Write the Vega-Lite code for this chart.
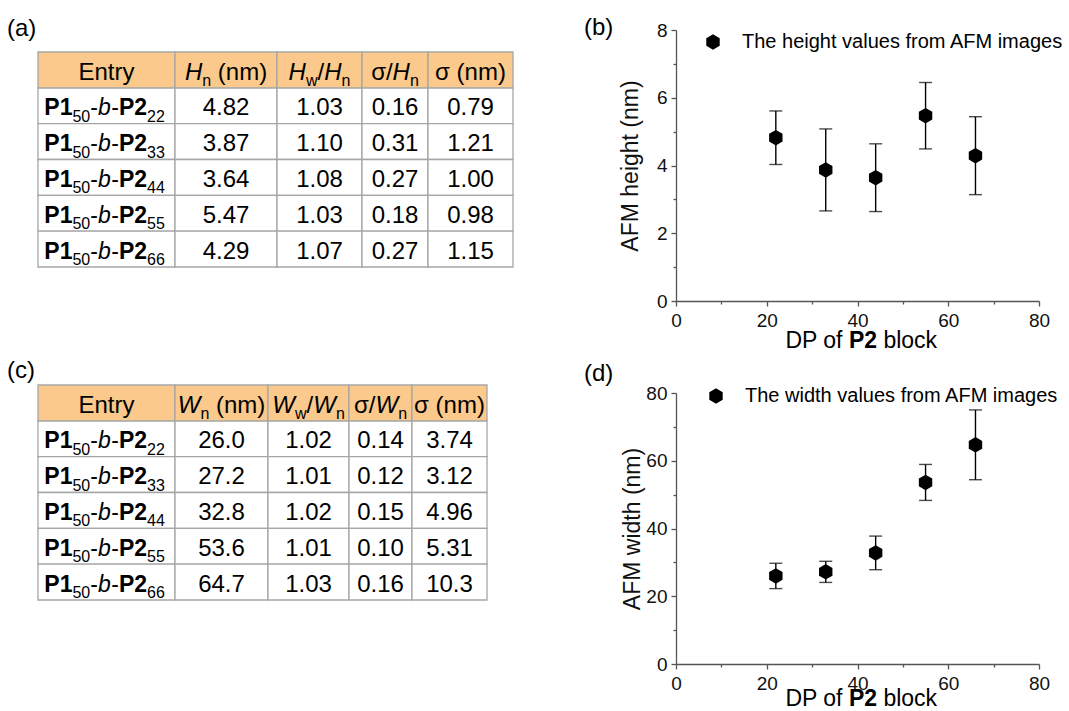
{
 "$schema": "https://vega.github.io/schema/vega-lite/v6.json",
 "padding": {"left": 7, "top": 16, "right": 0, "bottom": 0},
 "background": "white",
 "config": {
  "font": "Liberation Sans",
  "view": {"stroke": null},
  "text": {"font": "Liberation Sans", "color": "#000", "fontSize": 24, "baseline": "alphabetic"},
  "title": {"font": "Liberation Sans", "fontSize": 24, "fontWeight": "normal", "color": "#000", "anchor": "start", "frame": "group", "baseline": "alphabetic"},
  "axis": {"labelFont": "Liberation Sans", "titleFont": "Liberation Sans", "labelFontSize": 19, "labelColor": "#111", "titleFontSize": 23, "titleFontWeight": "normal", "titleColor": "#111", "domainColor": "#555", "tickColor": "#555", "domainWidth": 1.3, "tickWidth": 1.3, "grid": false, "labelFlush": false, "labelOverlap": false, "labelPadding": 4},
  "axisX": {"labelPadding": 5},
  "legend": {"labelFont": "Liberation Sans", "labelFontSize": 20, "labelColor": "#000", "labelLimit": 0, "symbolSize": 240, "symbolFillColor": "#000", "symbolStrokeColor": "#000", "symbolStrokeWidth": 0, "symbolOpacity": 1, "labelOffset": 19}
 },
 "datasets": {
  "H": [
   {"dp": 22, "m": 4.82, "r": 1.03, "sr": 0.16, "s": 0.79},
   {"dp": 33, "m": 3.87, "r": 1.10, "sr": 0.31, "s": 1.21},
   {"dp": 44, "m": 3.64, "r": 1.08, "sr": 0.27, "s": 1.00},
   {"dp": 55, "m": 5.47, "r": 1.03, "sr": 0.18, "s": 0.98},
   {"dp": 66, "m": 4.29, "r": 1.07, "sr": 0.27, "s": 1.15}
  ],
  "W": [
   {"dp": 22, "m": 26.0, "r": 1.02, "sr": 0.14, "s": 3.74},
   {"dp": 33, "m": 27.2, "r": 1.01, "sr": 0.12, "s": 3.12},
   {"dp": 44, "m": 32.8, "r": 1.02, "sr": 0.15, "s": 4.96},
   {"dp": 55, "m": 53.6, "r": 1.01, "sr": 0.10, "s": 5.31},
   {"dp": 66, "m": 64.7, "r": 1.03, "sr": 0.16, "s": 10.3}
  ]
 },
 "columns": 2,
 "spacing": {"row": 84, "column": 163},
 "align": "each",
 "bounds": "flush",
 "resolve": {"scale": {"shape": "independent"}},
 "concat": [
  {
   "width": 475, "height": 237, "data": {"name": "H"},
   "title": {"text": "(a)", "dx": -31, "offset": -11},
   "resolve": {"scale": {"x": "independent"}},
   "encoding": {"y": {"field": "dp", "type": "ordinal", "axis": null, "scale": {"domain": [0, 22, 33, 44, 55, 66], "range": [22, 237], "paddingInner": 0, "paddingOuter": 0}}},
   "layer": [
    {
     "encoding": {"x": {"datum": "c1", "type": "nominal", "axis": null, "scale": {"type": "band", "range": [0, 137], "paddingInner": 0, "paddingOuter": 0}}},
     "layer": [
      {"mark": {"type": "rect", "fill": "#fff", "stroke": "#A6A6A6", "strokeWidth": 1.3}},
      {"transform": [{"filter": "datum.dp == 22"}], "encoding": {"y": {"datum": 0, "type": "ordinal"}}, "layer": [
        {"mark": {"type": "rect", "fill": "#FAC98B", "stroke": "#A6A6A6", "strokeWidth": 1.3}},
        {"mark": {"type": "text", "text": "Entry", "align": "center", "dy": 10.5}}
      ]},
      {"mark": {"type": "text", "text": "P1", "fontSize": 23, "fontWeight": "bold", "align": "left", "dx": -62.2, "dy": 9.5}},
      {"mark": {"type": "text", "text": "50", "fontSize": 16, "align": "left", "dx": -34.1, "dy": 16}},
      {"mark": {"type": "text", "text": "-", "fontSize": 23, "align": "left", "dx": -16.3, "dy": 9.5}},
      {"mark": {"type": "text", "text": "b", "fontSize": 23, "fontStyle": "italic", "align": "left", "dx": -8.6, "dy": 9.5}},
      {"mark": {"type": "text", "text": "-", "fontSize": 23, "align": "left", "dx": 4.8, "dy": 9.5}},
      {"mark": {"type": "text", "text": "P2", "fontSize": 23, "fontWeight": "bold", "align": "left", "dx": 12.5, "dy": 9.5}},
      {"mark": {"type": "text", "fontSize": 16, "align": "left", "dx": 40.6, "dy": 16}, "encoding": {"text": {"field": "dp"}}}
     ]
    },
    {
     "encoding": {"x": {"datum": "c2", "type": "nominal", "axis": null, "scale": {"type": "band", "range": [137, 239], "paddingInner": 0, "paddingOuter": 0}}},
     "layer": [
      {"mark": {"type": "rect", "fill": "#fff", "stroke": "#A6A6A6", "strokeWidth": 1.3}},
      {"transform": [{"filter": "datum.dp == 22"}], "encoding": {"y": {"datum": 0, "type": "ordinal"}}, "layer": [
        {"mark": {"type": "rect", "fill": "#FAC98B", "stroke": "#A6A6A6", "strokeWidth": 1.3}},
        {"mark": {"type": "text", "text": "H", "fontStyle": "italic", "align": "left", "dx": -41.1, "dy": 10.5}},
        {"mark": {"type": "text", "text": "n", "fontSize": 16, "align": "left", "dx": -23.8, "dy": 16.5}},
        {"mark": {"type": "text", "text": "(nm)", "align": "left", "dx": -8.2, "dy": 10.5}}
      ]},
      {"mark": {"type": "text", "align": "center", "dy": 9.5}, "encoding": {"text": {"field": "m", "format": ".2f"}}}
     ]
    },
    {
     "encoding": {"x": {"datum": "c3", "type": "nominal", "axis": null, "scale": {"type": "band", "range": [239, 324], "paddingInner": 0, "paddingOuter": 0}}},
     "layer": [
      {"mark": {"type": "rect", "fill": "#fff", "stroke": "#A6A6A6", "strokeWidth": 1.3}},
      {"transform": [{"filter": "datum.dp == 22"}], "encoding": {"y": {"datum": 0, "type": "ordinal"}}, "layer": [
        {"mark": {"type": "rect", "fill": "#FAC98B", "stroke": "#A6A6A6", "strokeWidth": 1.3}},
        {"mark": {"type": "text", "text": "H", "fontStyle": "italic", "align": "left", "dx": -30.9, "dy": 10.5}},
        {"mark": {"type": "text", "text": "w", "fontSize": 16, "align": "left", "dx": -13.6, "dy": 16.5}},
        {"mark": {"type": "text", "text": "/", "align": "left", "dx": -2.0, "dy": 10.5}},
        {"mark": {"type": "text", "text": "H", "fontStyle": "italic", "align": "left", "dx": 4.7, "dy": 10.5}},
        {"mark": {"type": "text", "text": "n", "fontSize": 16, "align": "left", "dx": 22.0, "dy": 16.5}}
      ]},
      {"mark": {"type": "text", "align": "center", "dy": 9.5}, "encoding": {"text": {"field": "r", "format": ".2f"}}}
     ]
    },
    {
     "encoding": {"x": {"datum": "c4", "type": "nominal", "axis": null, "scale": {"type": "band", "range": [324, 390], "paddingInner": 0, "paddingOuter": 0}}},
     "layer": [
      {"mark": {"type": "rect", "fill": "#fff", "stroke": "#A6A6A6", "strokeWidth": 1.3}},
      {"transform": [{"filter": "datum.dp == 22"}], "encoding": {"y": {"datum": 0, "type": "ordinal"}}, "layer": [
        {"mark": {"type": "rect", "fill": "#FAC98B", "stroke": "#A6A6A6", "strokeWidth": 1.3}},
        {"mark": {"type": "text", "text": "σ", "align": "left", "dx": -23.85, "dy": 10.5}},
        {"mark": {"type": "text", "text": "/", "align": "left", "dx": -9.05, "dy": 10.5}},
        {"mark": {"type": "text", "text": "H", "fontStyle": "italic", "align": "left", "dx": -2.4, "dy": 10.5}},
        {"mark": {"type": "text", "text": "n", "fontSize": 16, "align": "left", "dx": 14.9, "dy": 16.5}}
      ]},
      {"mark": {"type": "text", "align": "center", "dy": 9.5}, "encoding": {"text": {"field": "sr", "format": ".2f"}}}
     ]
    },
    {
     "encoding": {"x": {"datum": "c5", "type": "nominal", "axis": null, "scale": {"type": "band", "range": [390, 475], "paddingInner": 0, "paddingOuter": 0}}},
     "layer": [
      {"mark": {"type": "rect", "fill": "#fff", "stroke": "#A6A6A6", "strokeWidth": 1.3}},
      {"transform": [{"filter": "datum.dp == 22"}], "encoding": {"y": {"datum": 0, "type": "ordinal"}}, "layer": [
        {"mark": {"type": "rect", "fill": "#FAC98B", "stroke": "#A6A6A6", "strokeWidth": 1.3}},
        {"mark": {"type": "text", "text": "σ (nm)", "align": "center", "dy": 10.5}}
      ]},
      {"mark": {"type": "text", "align": "center", "dy": 9.5}, "encoding": {"text": {"field": "s", "format": ".2f"}}}
     ]
    }
   ]
  },
  {
   "width": 363, "height": 271, "data": {"name": "H"},
   "title": {"text": "(b)", "dx": -92, "offset": -19},
   "encoding": {
    "x": {"field": "dp", "type": "quantitative", "scale": {"domain": [0, 80], "nice": false},
          "axis": {"values": [0, 10, 20, 30, 40, 50, 60, 70, 80], "labelExpr": "datum.value % 20 === 0 ? datum.label : ''", "tickSize": {"condition": {"test": "datum.value % 20 === 0", "value": 5}, "value": 3}, "title": null}},
    "y": {"field": "m", "type": "quantitative", "scale": {"domain": [0, 8], "nice": false},
          "axis": {"values": [0, 1, 2, 3, 4, 5, 6, 7, 8], "labelExpr": "datum.value % 2 === 0 ? datum.label : ''", "tickSize": {"condition": {"test": "datum.value % 2 === 0", "value": 5}, "value": 3}, "title": "AFM height (nm)", "titlePadding": 14}}
   },
   "layer": [
    {"mark": {"type": "errorbar", "color": "#000", "thickness": 1.4, "ticks": {"size": 13, "thickness": 1.4, "color": "#000"}}, "encoding": {"yError": {"field": "s"}}},
    {"mark": {"type": "point", "filled": true, "opacity": 1, "size": 240, "color": "#000"},
     "encoding": {"shape": {"datum": "The height values from AFM images", "type": "nominal", "scale": {"range": ["M0,-1L0.866,-0.5L0.866,0.5L0,1L-0.866,0.5L-0.866,-0.5Z"]}, "legend": {"title": null, "orient": "none", "legendX": 27, "legendY": 2}}}},
    {"transform": [{"filter": "datum.dp == 22"}], "mark": {"type": "text", "text": "DP of", "align": "right", "fontSize": 23, "dx": -15, "dy": 47}, "encoding": {"x": {"datum": 40, "type": "quantitative"}, "y": {"datum": 0, "type": "quantitative"}}},
    {"transform": [{"filter": "datum.dp == 22"}], "mark": {"type": "text", "text": "P2", "align": "left", "fontSize": 23, "fontWeight": "bold", "dx": -8.6, "dy": 47}, "encoding": {"x": {"datum": 40, "type": "quantitative"}, "y": {"datum": 0, "type": "quantitative"}}},
    {"transform": [{"filter": "datum.dp == 22"}], "mark": {"type": "text", "text": "block", "align": "left", "fontSize": 23, "dx": 25.9, "dy": 47}, "encoding": {"x": {"datum": 40, "type": "quantitative"}, "y": {"datum": 0, "type": "quantitative"}}}
   ]
  },
  {
   "width": 449, "height": 215, "data": {"name": "W"},
   "title": {"text": "(c)", "dx": -31, "offset": 1},
   "resolve": {"scale": {"x": "independent"}},
   "encoding": {"y": {"field": "dp", "type": "ordinal", "axis": null, "scale": {"domain": [0, 22, 33, 44, 55, 66], "range": [0, 215], "paddingInner": 0, "paddingOuter": 0}}},
   "layer": [
    {
     "encoding": {"x": {"datum": "c1", "type": "nominal", "axis": null, "scale": {"type": "band", "range": [0, 137], "paddingInner": 0, "paddingOuter": 0}}},
     "layer": [
      {"mark": {"type": "rect", "fill": "#fff", "stroke": "#A6A6A6", "strokeWidth": 1.3}},
      {"transform": [{"filter": "datum.dp == 22"}], "encoding": {"y": {"datum": 0, "type": "ordinal"}}, "layer": [
        {"mark": {"type": "rect", "fill": "#FAC98B", "stroke": "#A6A6A6", "strokeWidth": 1.3}},
        {"mark": {"type": "text", "text": "Entry", "align": "center", "dy": 10.5}}
      ]},
      {"mark": {"type": "text", "text": "P1", "fontSize": 23, "fontWeight": "bold", "align": "left", "dx": -62.2, "dy": 9.5}},
      {"mark": {"type": "text", "text": "50", "fontSize": 16, "align": "left", "dx": -34.1, "dy": 16}},
      {"mark": {"type": "text", "text": "-", "fontSize": 23, "align": "left", "dx": -16.3, "dy": 9.5}},
      {"mark": {"type": "text", "text": "b", "fontSize": 23, "fontStyle": "italic", "align": "left", "dx": -8.6, "dy": 9.5}},
      {"mark": {"type": "text", "text": "-", "fontSize": 23, "align": "left", "dx": 4.8, "dy": 9.5}},
      {"mark": {"type": "text", "text": "P2", "fontSize": 23, "fontWeight": "bold", "align": "left", "dx": 12.5, "dy": 9.5}},
      {"mark": {"type": "text", "fontSize": 16, "align": "left", "dx": 40.6, "dy": 16}, "encoding": {"text": {"field": "dp"}}}
     ]
    },
    {
     "encoding": {"x": {"datum": "c2", "type": "nominal", "axis": null, "scale": {"type": "band", "range": [137, 230], "paddingInner": 0, "paddingOuter": 0}}},
     "layer": [
      {"mark": {"type": "rect", "fill": "#fff", "stroke": "#A6A6A6", "strokeWidth": 1.3}},
      {"transform": [{"filter": "datum.dp == 22"}], "encoding": {"y": {"datum": 0, "type": "ordinal"}}, "layer": [
        {"mark": {"type": "rect", "fill": "#FAC98B", "stroke": "#A6A6A6", "strokeWidth": 1.3}},
        {"mark": {"type": "text", "text": "W", "fontStyle": "italic", "align": "left", "dx": -43.8, "dy": 10.5}},
        {"mark": {"type": "text", "text": "n", "fontSize": 16, "align": "left", "dx": -21.1, "dy": 16.5}},
        {"mark": {"type": "text", "text": "(nm)", "align": "left", "dx": -5.5, "dy": 10.5}}
      ]},
      {"mark": {"type": "text", "align": "center", "dy": 9.5}, "encoding": {"text": {"field": "m", "format": ".1f"}}}
     ]
    },
    {
     "encoding": {"x": {"datum": "c3", "type": "nominal", "axis": null, "scale": {"type": "band", "range": [230, 311], "paddingInner": 0, "paddingOuter": 0}}},
     "layer": [
      {"mark": {"type": "rect", "fill": "#fff", "stroke": "#A6A6A6", "strokeWidth": 1.3}},
      {"transform": [{"filter": "datum.dp == 22"}], "encoding": {"y": {"datum": 0, "type": "ordinal"}}, "layer": [
        {"mark": {"type": "rect", "fill": "#FAC98B", "stroke": "#A6A6A6", "strokeWidth": 1.3}},
        {"mark": {"type": "text", "text": "W", "fontStyle": "italic", "align": "left", "dx": -36.3, "dy": 10.5}},
        {"mark": {"type": "text", "text": "w", "fontSize": 16, "align": "left", "dx": -13.6, "dy": 16.5}},
        {"mark": {"type": "text", "text": "/", "align": "left", "dx": -2.0, "dy": 10.5}},
        {"mark": {"type": "text", "text": "W", "fontStyle": "italic", "align": "left", "dx": 4.7, "dy": 10.5}},
        {"mark": {"type": "text", "text": "n", "fontSize": 16, "align": "left", "dx": 27.4, "dy": 16.5}}
      ]},
      {"mark": {"type": "text", "align": "center", "dy": 9.5}, "encoding": {"text": {"field": "r", "format": ".2f"}}}
     ]
    },
    {
     "encoding": {"x": {"datum": "c4", "type": "nominal", "axis": null, "scale": {"type": "band", "range": [311, 374], "paddingInner": 0, "paddingOuter": 0}}},
     "layer": [
      {"mark": {"type": "rect", "fill": "#fff", "stroke": "#A6A6A6", "strokeWidth": 1.3}},
      {"transform": [{"filter": "datum.dp == 22"}], "encoding": {"y": {"datum": 0, "type": "ordinal"}}, "layer": [
        {"mark": {"type": "rect", "fill": "#FAC98B", "stroke": "#A6A6A6", "strokeWidth": 1.3}},
        {"mark": {"type": "text", "text": "σ", "align": "left", "dx": -26.55, "dy": 10.5}},
        {"mark": {"type": "text", "text": "/", "align": "left", "dx": -11.75, "dy": 10.5}},
        {"mark": {"type": "text", "text": "W", "fontStyle": "italic", "align": "left", "dx": -5.05, "dy": 10.5}},
        {"mark": {"type": "text", "text": "n", "fontSize": 16, "align": "left", "dx": 17.65, "dy": 16.5}}
      ]},
      {"mark": {"type": "text", "align": "center", "dy": 9.5}, "encoding": {"text": {"field": "sr", "format": ".2f"}}}
     ]
    },
    {
     "encoding": {"x": {"datum": "c5", "type": "nominal", "axis": null, "scale": {"type": "band", "range": [374, 449], "paddingInner": 0, "paddingOuter": 0}}},
     "layer": [
      {"mark": {"type": "rect", "fill": "#fff", "stroke": "#A6A6A6", "strokeWidth": 1.3}},
      {"transform": [{"filter": "datum.dp == 22"}], "encoding": {"y": {"datum": 0, "type": "ordinal"}}, "layer": [
        {"mark": {"type": "rect", "fill": "#FAC98B", "stroke": "#A6A6A6", "strokeWidth": 1.3}},
        {"mark": {"type": "text", "text": "σ (nm)", "align": "center", "dy": 10.5}}
      ]},
      {"mark": {"type": "text", "align": "center", "dy": 9.5}, "encoding": {"text": {"field": "s", "format": ".3r"}}}
     ]
    }
   ]
  },
  {
   "width": 363, "height": 279, "data": {"name": "W"},
   "title": {"text": "(d)", "dx": -92, "offset": -2},
   "encoding": {
    "x": {"field": "dp", "type": "quantitative", "scale": {"domain": [0, 80], "nice": false},
          "axis": {"values": [0, 10, 20, 30, 40, 50, 60, 70, 80], "labelExpr": "datum.value % 20 === 0 ? datum.label : ''", "tickSize": {"condition": {"test": "datum.value % 20 === 0", "value": 5}, "value": 3}, "title": null}},
    "y": {"field": "m", "type": "quantitative", "scale": {"domain": [0, 80], "nice": false, "range": [279, 8]},
          "axis": {"values": [0, 10, 20, 30, 40, 50, 60, 70, 80], "labelExpr": "datum.value % 20 === 0 ? datum.label : ''", "tickSize": {"condition": {"test": "datum.value % 20 === 0", "value": 5}, "value": 3}, "title": "AFM width (nm)", "titlePadding": 1}}
   },
   "layer": [
    {"mark": {"type": "errorbar", "color": "#000", "thickness": 1.4, "ticks": {"size": 13, "thickness": 1.4, "color": "#000"}}, "encoding": {"yError": {"field": "s"}}},
    {"mark": {"type": "point", "filled": true, "opacity": 1, "size": 240, "color": "#000"},
     "encoding": {"shape": {"datum": "The width values from AFM images", "type": "nominal", "scale": {"range": ["M0,-1L0.866,-0.5L0.866,0.5L0,1L-0.866,0.5L-0.866,-0.5Z"]}, "legend": {"title": null, "orient": "none", "legendX": 30, "legendY": 1}}}},
    {"transform": [{"filter": "datum.dp == 22"}], "mark": {"type": "text", "text": "DP of", "align": "right", "fontSize": 23, "dx": -15, "dy": 42}, "encoding": {"x": {"datum": 40, "type": "quantitative"}, "y": {"datum": 0, "type": "quantitative"}}},
    {"transform": [{"filter": "datum.dp == 22"}], "mark": {"type": "text", "text": "P2", "align": "left", "fontSize": 23, "fontWeight": "bold", "dx": -8.6, "dy": 42}, "encoding": {"x": {"datum": 40, "type": "quantitative"}, "y": {"datum": 0, "type": "quantitative"}}},
    {"transform": [{"filter": "datum.dp == 22"}], "mark": {"type": "text", "text": "block", "align": "left", "fontSize": 23, "dx": 25.9, "dy": 42}, "encoding": {"x": {"datum": 40, "type": "quantitative"}, "y": {"datum": 0, "type": "quantitative"}}}
   ]
  }
 ]
}
